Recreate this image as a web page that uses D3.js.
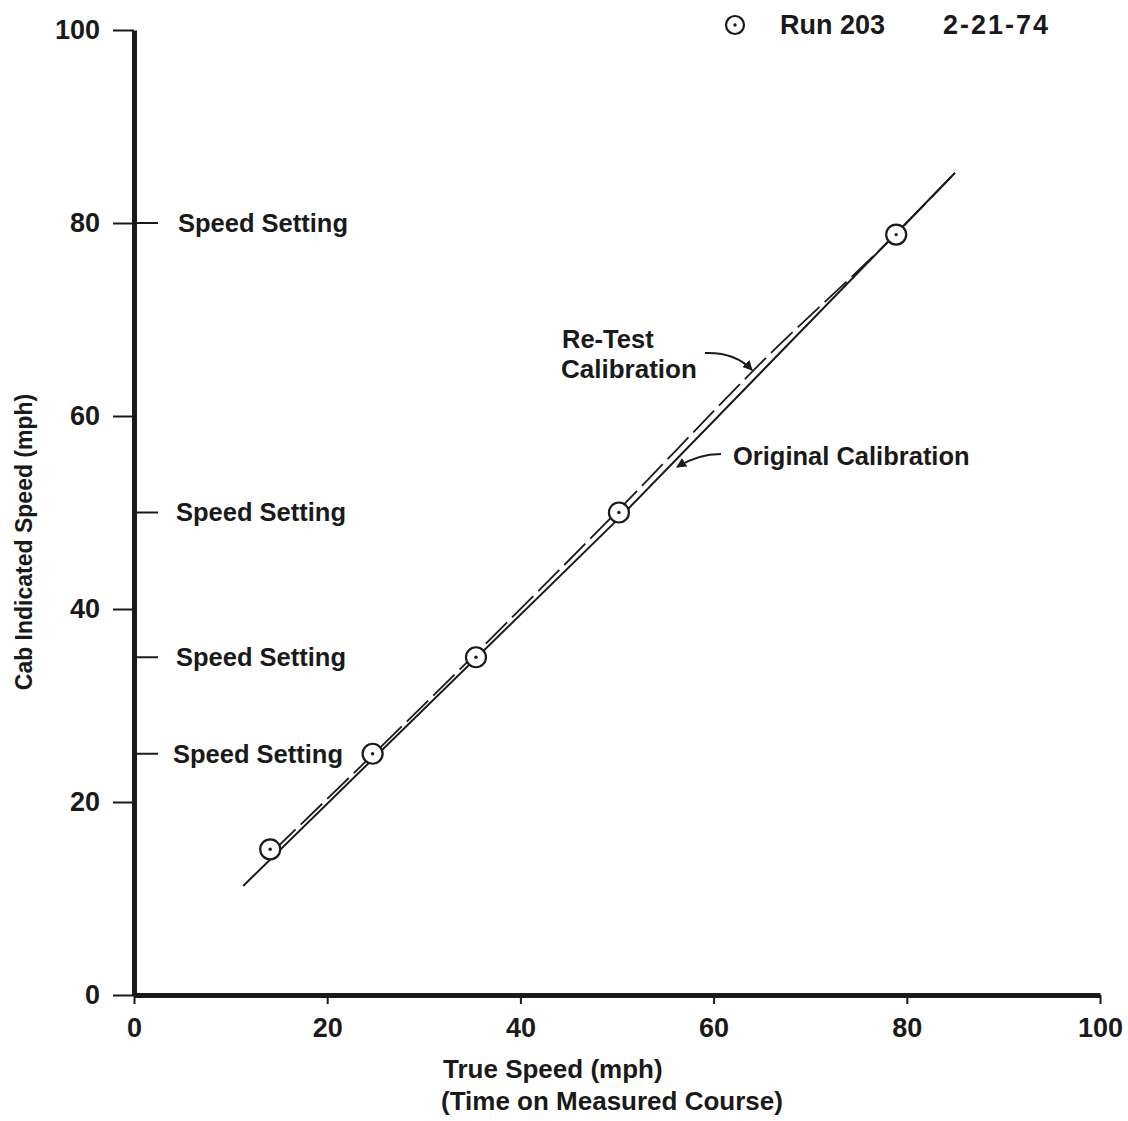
<!DOCTYPE html>
<html>
<head>
<meta charset="utf-8">
<script src="https://cdn.jsdelivr.net/npm/d3@7"></script>
<style>
  body { margin: 0; background: #fff; }
  text { font-family: "Liberation Sans", Arial, sans-serif; font-weight: bold; fill: #1a1a1a; }
</style>
</head>
<body>
<div id="chart"></div>
<script>
// data
var xTicks = [0, 20, 40, 60, 80, 100];
var yTicks = [0, 20, 40, 60, 80, 100];
var speedSettings = [80, 50, 35, 25];
var runTrue = [14.1, 24.7, 35.4, 50.2, 78.9];
var runCab = [15.1, 25.0, 35.0, 50.0, 78.8];
var originalCal = [[11.3, 11.3], [50.4, 49.6], [85.0, 85.2]];
var retestCal = [[14.5, 15.0], [35.2, 35.2], [50.0, 50.1], [65.0, 65.6], [79.0, 79.0], [85.0, 85.2]];

var width = 1128, height = 1121;
var ink = '#1a1a1a';

var svg = d3.select('#chart').append('svg')
  .attr('width', width)
  .attr('height', height);

var x = d3.scaleLinear().domain([0, 100]).range([134, 1100]);
var y = d3.scaleLinear().domain([0, 100]).range([995, 30]);

// y axis
var yAxis = svg.append('g')
  .attr('transform', 'translate(' + x(0) + ',0)')
  .call(d3.axisLeft(y).tickValues(yTicks).tickSize(21).tickSizeOuter(0).tickPadding(13));
yAxis.select('.domain').attr('stroke', ink).attr('stroke-width', 5);
yAxis.selectAll('.tick line').attr('stroke', ink).attr('stroke-width', 2);
yAxis.selectAll('.tick text').style('font-size', '27px').attr('fill', ink);

// x axis
var xAxis = svg.append('g')
  .attr('transform', 'translate(0,' + y(0) + ')')
  .call(d3.axisBottom(x).tickValues(xTicks).tickSize(9).tickSizeOuter(0).tickPadding(14));
xAxis.select('.domain').attr('stroke', ink).attr('stroke-width', 5);
xAxis.selectAll('.tick line').attr('stroke', ink).attr('stroke-width', 2);
xAxis.selectAll('.tick text').style('font-size', '27px').attr('fill', ink);

// speed setting ticks and labels
var ss = svg.append('g').selectAll('g')
    .data(speedSettings)
  .enter().append('g')
    .attr('transform', function (d) { return 'translate(' + x(0) + ',' + y(d) + ')'; });
ss.append('line')
  .attr('x1', 0).attr('x2', 24)
  .attr('stroke', ink).attr('stroke-width', 2);
ss.append('text')
  .attr('x', function (d) { return d === 80 ? 44 : (d === 25 ? 39 : 42); })
  .attr('dy', '0.35em')
  .style('font-size', '25.5px')
  .text('Speed Setting');

// calibration lines
var line = d3.line()
  .x(function (d) { return x(d[0]); })
  .y(function (d) { return y(d[1]); });

svg.append('path')
  .datum(originalCal)
  .attr('d', line)
  .attr('fill', 'none')
  .attr('stroke', ink)
  .attr('stroke-width', 2);

svg.append('path')
  .datum(retestCal)
  .attr('d', line.curve(d3.curveMonotoneX))
  .attr('fill', 'none')
  .attr('stroke', ink)
  .attr('stroke-width', 1.8)
  .attr('stroke-dasharray', '30,7');

// run 203 points
var pts = svg.append('g').selectAll('g')
    .data(runTrue)
  .enter().append('g')
    .attr('transform', function (d, i) { return 'translate(' + x(d) + ',' + y(runCab[i]) + ')'; });
pts.append('circle')
  .attr('r', 10)
  .attr('fill', '#fff')
  .attr('stroke', ink)
  .attr('stroke-width', 2.2);
pts.append('circle')
  .attr('r', 1.7)
  .attr('fill', ink);

// legend
var legend = svg.append('g').attr('transform', 'translate(735,25)');
legend.append('circle').attr('r', 9).attr('fill', '#fff').attr('stroke', ink).attr('stroke-width', 2.2);
legend.append('circle').attr('r', 1.7).attr('fill', ink);
legend.append('text').attr('x', 45).attr('dy', '0.35em').style('font-size', '27px').text('Run 203');
legend.append('text').attr('x', 208).attr('dy', '0.35em').style('font-size', '27px')
  .style('letter-spacing', '2px').text('2-21-74');

// annotations
svg.append('text').attr('x', 562).attr('y', 348).style('font-size', '25.5px').text('Re-Test');
svg.append('text').attr('x', 561).attr('y', 378).style('font-size', '26px').text('Calibration');
svg.append('text').attr('x', 733).attr('y', 465).style('font-size', '25.5px').text('Original Calibration');

svg.append('defs').append('marker')
    .attr('id', 'arrow')
    .attr('viewBox', '0 -5 10 10')
    .attr('refX', 9)
    .attr('refY', 0)
    .attr('markerWidth', 5)
    .attr('markerHeight', 5)
    .attr('orient', 'auto')
  .append('path')
    .attr('d', 'M0,-5L10,0L0,5')
    .attr('fill', ink);

svg.append('path')
  .attr('d', 'M705,353 Q735,352 752,370')
  .attr('fill', 'none').attr('stroke', ink).attr('stroke-width', 2)
  .attr('marker-end', 'url(#arrow)');
svg.append('path')
  .attr('d', 'M721,454 Q698,454 677,467')
  .attr('fill', 'none').attr('stroke', ink).attr('stroke-width', 2)
  .attr('marker-end', 'url(#arrow)');

// axis titles
svg.append('text')
  .attr('transform', 'translate(32,542) rotate(-90)')
  .attr('text-anchor', 'middle')
  .style('font-size', '23px')
  .text('Cab Indicated Speed (mph)');
svg.append('text')
  .attr('x', 443).attr('y', 1078)
  .style('font-size', '26px')
  .text('True Speed (mph)');
svg.append('text')
  .attr('x', 441).attr('y', 1110)
  .style('font-size', '26px')
  .text('(Time on Measured Course)');
</script>
</body>
</html>
